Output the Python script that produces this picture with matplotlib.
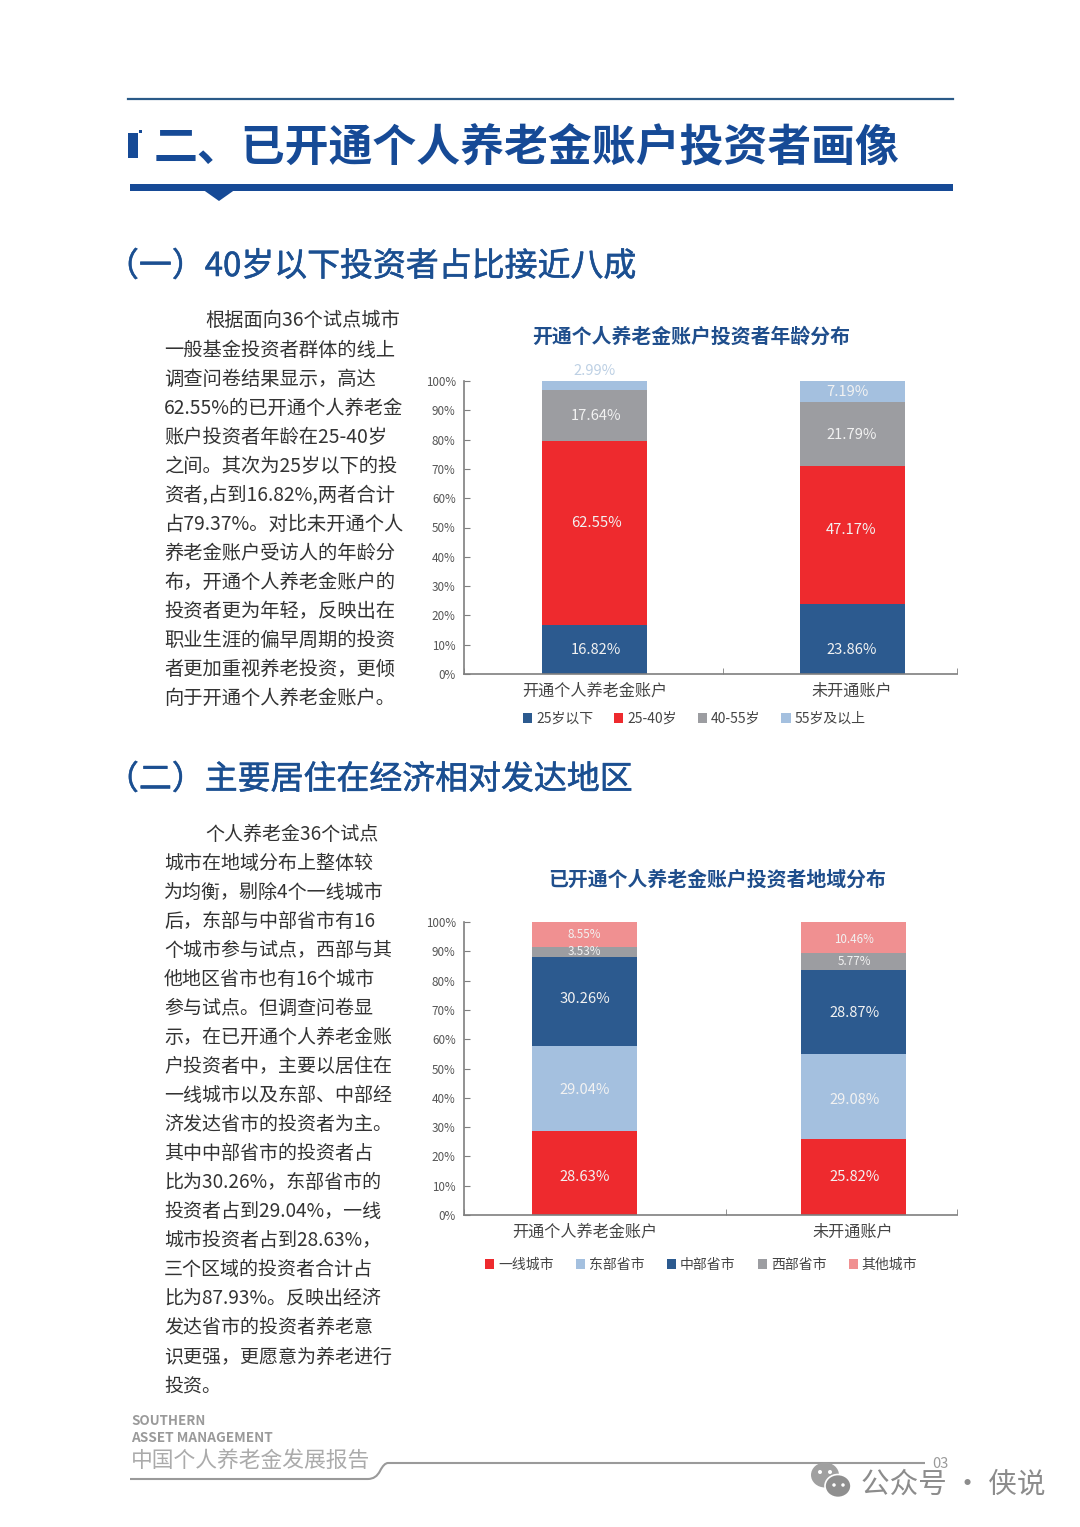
import matplotlib
matplotlib.use("Agg")
from matplotlib import pyplot as plt
from matplotlib import patheffects
from matplotlib.patches import Ellipse, Polygon, Rectangle
from matplotlib.path import Path
from matplotlib.patches import PathPatch

plt.rcParams['font.family'] = ['Noto Sans CJK SC', 'DejaVu Sans']

W = 1080
H = 1527
BLUE = '#2c5a8f'
RED = '#ee2a2e'
GRAY = '#9c9da1'
LIGHT = '#a4c0df'
PINK = '#f09091'
TITLE_BLUE = '#164a96'

age_groups = ['25岁以下', '25-40岁', '40-55岁', '55岁及以上']
age_colors = [BLUE, RED, GRAY, LIGHT]
age_data = [[16.82, 23.86], [62.55, 47.17], [17.64, 21.79], [2.99, 7.19]]
# the labels are not centred in the segments, heights read off the picture
age_label_y = [[8.2, 8.2], [51.6, 49.2], [88.1, 81.6], [103.3, 96.3]]
age_label_x = [[0.008, -0.004], [0.008, -0.004], [0.008, -0.004], [0.0, -0.02]]

area_groups = ['一线城市', '东部省市', '中部省市', '西部省市', '其他城市']
area_colors = [RED, LIGHT, BLUE, GRAY, PINK]
area_data = [[28.63, 25.82], [29.04, 29.08], [30.26, 28.87], [3.53, 5.77], [8.55, 10.46]]
area_label_y = [[13.0, 13.0], [42.7, 39.3], [73.8, 69.0], [89.8, 86.4], [95.6, 93.9]]
area_label_x = [[0, 0.004], [0, 0.004], [0, 0.004], [0, 0.004], [0, 0.004]]

cats = ['开通个人养老金账户', '未开通账户']

para1 = ['根据面向36个试点城市', '一般基金投资者群体的线上', '调查问卷结果显示，高达',
         '62.55%的已开通个人养老金', '账户投资者年龄在25-40岁', '之间。其次为25岁以下的投',
         '资者,占到16.82%,两者合计', '占79.37%。对比未开通个人', '养老金账户受访人的年龄分',
         '布，开通个人养老金账户的', '投资者更为年轻，反映出在', '职业生涯的偏早周期的投资',
         '者更加重视养老投资，更倾', '向于开通个人养老金账户。']
para2 = ['个人养老金36个试点', '城市在地域分布上整体较', '为均衡，剔除4个一线城市',
         '后，东部与中部省市有16', '个城市参与试点，西部与其', '他地区省市也有16个城市',
         '参与试点。但调查问卷显', '示，在已开通个人养老金账', '户投资者中，主要以居住在',
         '一线城市以及东部、中部经', '济发达省市的投资者为主。', '其中中部省市的投资者占',
         '比为30.26%，东部省市的', '投资者占到29.04%，一线', '城市投资者占到28.63%，',
         '三个区域的投资者合计占', '比为87.93%。反映出经济', '发达省市的投资者养老意',
         '识更强，更愿意为养老进行', '投资。']


def stackedChart(fig, box, xlim, midtick, groups, colors, data, label_x, label_y, width, small,
                 legend_anchor, spacing):
    # box is left, top, right, bottom in pixels of the page
    left, top, right, bottom = box
    ax = fig.add_axes([left / W, 1 - bottom / H, (right - left) / W, (bottom - top) / H])
    ax.patch.set_alpha(0)
    base = [0, 0]
    for i, name in enumerate(groups):
        ax.bar([0, 1], data[i], width=width, bottom=base, color=colors[i], label=name)
        for j in range(2):
            val = data[i][j]
            size = 8.4 if val in small else 10.6
            col = '#bdd0e4' if val == 2.99 else '#f2f2f2'
            ax.text(j + label_x[i][j], label_y[i][j], '%.2f%%' % val, ha='center', va='center',
                    fontsize=size, color=col, clip_on=False)
            base[j] += val
    ax.set_xlim(xlim)
    ax.set_ylim(0, 100)
    ax.spines['top'].set_visible(False)
    ax.spines['right'].set_visible(False)
    for s in ['left', 'bottom']:
        ax.spines[s].set_color('#7f7f7f')
        ax.spines[s].set_linewidth(1.2)
    ax.set_yticks(range(0, 101, 10))
    ax.set_yticklabels(['%d%%' % v for v in range(0, 101, 10)], fontsize=8.4, color='#555555')
    ax.tick_params(axis='y', direction='in', length=4, color='#7f7f7f', pad=6)
    ax.set_xticks([xlim[0], midtick, xlim[1]], minor=True)
    ax.tick_params(axis='x', which='minor', direction='in', length=4, color='#7f7f7f')
    ax.set_xticks([0, 1])
    ax.set_xticklabels(cats, fontsize=11.6, color='#444444')
    ax.tick_params(axis='x', which='major', length=0, pad=6.5)
    ax.legend(loc='center', bbox_to_anchor=legend_anchor, ncol=len(groups), frameon=False,
              fontsize=10, handlelength=0.65, handleheight=0.65, handletextpad=0.3,
              columnspacing=spacing, labelcolor='#444444')
    return ax


def drawPage(fig):
    page = fig.add_axes([0, 0, 1, 1])
    page.set_xlim(0, W)
    page.set_ylim(H, 0)
    page.axis('off')

    # header
    page.plot([128, 953], [99, 99], color='#2a5a88', lw=1.6)
    page.add_patch(Rectangle((128, 133), 10, 25, color=TITLE_BLUE, lw=0))
    page.add_patch(Rectangle((139, 130), 3, 3, color=TITLE_BLUE, lw=0))
    page.add_patch(Rectangle((130, 184), 823, 6.5, color=TITLE_BLUE, lw=0))
    page.add_patch(Polygon([[202, 189], [236, 189], [219, 201]], color=TITLE_BLUE, lw=0))
    page.text(154, 148, '二、已开通个人养老金账户投资者画像', fontsize=31.6, fontweight='bold',
              color=TITLE_BLUE, va='center')

    # section headings
    thick = [patheffects.withStroke(linewidth=0.4, foreground='#1b4f91')]
    page.text(106, 267, '（一）40岁以下投资者占比接近八成', fontsize=23.7, color='#1b4f91',
              va='center', path_effects=thick)
    page.text(106, 780, '（二）主要居住在经济相对发达地区', fontsize=23.7, color='#1b4f91',
              va='center', path_effects=thick)

    # body text
    for i, line in enumerate(para1):
        x = 205 if i == 0 else 164
        page.text(x, 321 + i * 29.05, line, fontsize=13.9, color='#333333', va='center')
    for i, line in enumerate(para2):
        x = 205 if i == 0 else 164
        page.text(x, 834 + i * 29.05, line, fontsize=13.7, color='#333333', va='center')

    # chart titles
    page.text(691, 336, '开通个人养老金账户投资者年龄分布', fontsize=14.3, fontweight='bold',
              color='#1f4e8c', ha='center', va='center')
    page.text(717, 879, '已开通个人养老金账户投资者地域分布', fontsize=14.3, fontweight='bold',
              color='#1f4e8c', ha='center', va='center')

    # footer
    page.text(131, 1421, 'SOUTHERN', fontsize=9.6, fontweight='bold', color='#9a9a9a', va='center')
    page.text(131, 1438, 'ASSET MANAGEMENT', fontsize=9.8, fontweight='bold', color='#9a9a9a', va='center')
    page.text(131, 1461, '中国个人养老金发展报告', fontsize=15.7, fontweight='light', color='#ababab', va='center')
    verts = [(130, 1479), (368, 1479), (376, 1479), (380, 1471), (384, 1463), (388, 1463), (925, 1463)]
    codes = [Path.MOVETO, Path.LINETO, Path.CURVE3, Path.CURVE3, Path.CURVE3, Path.CURVE3, Path.LINETO]
    page.add_patch(PathPatch(Path(verts, codes), fill=False, edgecolor='#9a9a9a', lw=1.5))
    page.text(932, 1464, '03', fontsize=10.5, fontweight='light', color='#9a9a9a', va='center')

    # watermark
    page.add_patch(Ellipse((825, 1475), 28, 25, color='#a0a0a0', lw=0))
    page.add_patch(Ellipse((838, 1486), 26, 23, color='#8f8f8f', ec='white', lw=1.2))
    for x, y in [(820, 1472), (830, 1472)]:
        page.add_patch(Ellipse((x, y), 4, 4, color='white', lw=0))
    for x, y in [(834, 1485), (843, 1485)]:
        page.add_patch(Ellipse((x, y), 3.5, 3.5, color='white', lw=0))
    page.text(861, 1485, '公众号 · 侠说', fontsize=20.6, color='#8c8c8c', va='center')


def main():
    fig = plt.figure(figsize=(W / 100, H / 100), dpi=100)
    drawPage(fig)
    stackedChart(fig, (464, 381, 957, 674), (-0.505, 1.406), 0.5, age_groups, age_colors, age_data,
                 age_label_x, age_label_y, 0.407, [], (0.4675, -0.153), 1.5)
    stackedChart(fig, (464, 922, 957, 1215), (-0.449, 1.387), 0.527, area_groups, area_colors, area_data,
                 area_label_x, area_label_y, 0.391, [3.53, 5.77, 8.55, 10.46], (0.481, -0.17), 1.6)
    fig.savefig('out.png', dpi=100)


if __name__ == "__main__":
    main()
